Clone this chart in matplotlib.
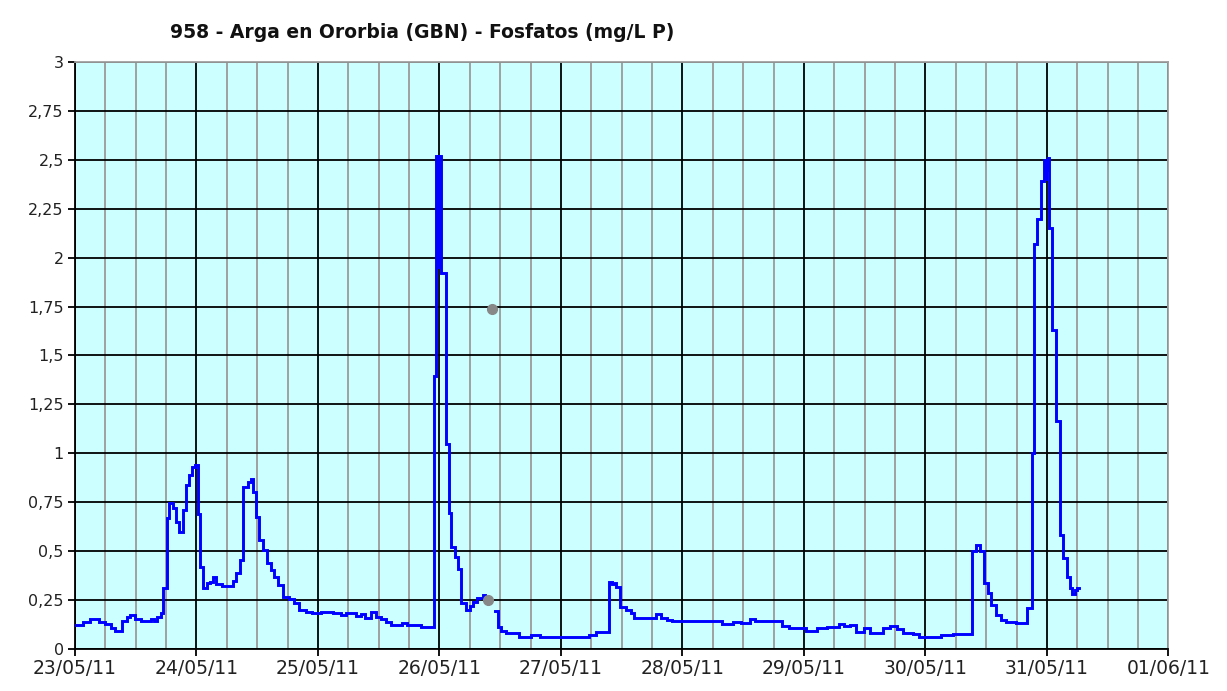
import matplotlib

matplotlib.use("Agg")
import matplotlib.dates as mdates
import matplotlib.pyplot as plt
import numpy as np
import pandas as pd

TITLE = "958 - Arga en Ororbia (GBN) - Fosfatos (mg/L P)"
START = pd.Timestamp("2011-05-23")

# hours since 23/05/11 00:00 and phosphate reading held from that hour on
hours = [
    0.0, 1.5, 3.0, 4.8, 6.0, 7.2, 8.0, 9.2, 10.2, 10.9, 11.8, 13.0, 15.0,
    15.6, 16.3, 17.0, 17.4, 18.1, 18.6, 19.3, 19.9, 20.5, 21.3, 21.9, 22.6,
    23.2, 23.8, 24.3, 24.7, 25.3, 26.0, 26.6, 27.2, 27.8, 29.0, 31.2, 31.9,
    32.6, 33.2, 34.2, 34.7, 35.1, 35.8, 36.4, 37.2, 38.0, 38.7, 39.4, 40.1,
    41.0, 42.3, 43.3, 44.3, 45.6, 46.9, 48.5, 51.0, 52.5, 53.6, 55.5, 56.5,
    57.3, 58.5, 59.5, 60.5, 61.5, 62.5, 64.5, 65.5, 68.4, 70.9, 71.4, 71.6,
    71.8, 72.0, 72.2, 72.4, 73.2, 73.9, 74.3, 75.0, 75.6, 76.3, 77.2, 78.0,
    78.6, 79.5, 80.5, 81.0, 82.9, 83.5, 84.2, 85.2, 87.8, 90.1, 91.8, 101.6,
    103.0, 105.5, 106.0, 106.6, 106.9, 107.7, 108.9, 109.9, 110.5, 114.8,
    115.8, 117.0, 118.0, 127.8, 130.0, 131.5, 133.3, 134.3, 139.6, 141.0,
    144.4, 146.5, 148.5, 151.0, 152.0, 153.0, 154.3, 155.9, 157.0, 159.6,
    161.0, 162.3, 163.5, 165.5, 166.8, 171.0, 173.5, 177.2, 177.9, 178.8,
    179.6, 180.3, 180.9, 181.9, 182.9, 184.0, 185.9, 188.1, 189.1, 189.4,
    190.1, 190.8, 191.4, 191.6, 191.8, 192.0, 192.2, 192.4, 193.0, 193.8,
    194.5, 195.2, 195.9, 196.6, 197.0, 197.5, 198.0, 198.3,
]
fosfatos = [
    0.123, 0.14, 0.152, 0.14, 0.128, 0.106, 0.092, 0.143, 0.162, 0.174,
    0.152, 0.141, 0.152, 0.141, 0.165, 0.182, 0.31, 0.668, 0.745, 0.72,
    0.65, 0.6, 0.71, 0.84, 0.89, 0.93, 0.94, 0.69, 0.42, 0.31, 0.335, 0.34,
    0.37, 0.33, 0.32, 0.35, 0.387, 0.455, 0.83, 0.855, 0.87, 0.80, 0.676,
    0.557, 0.506, 0.438, 0.404, 0.37, 0.327, 0.264, 0.254, 0.233, 0.20,
    0.19, 0.182, 0.187, 0.182, 0.175, 0.182, 0.168, 0.18, 0.16, 0.19, 0.165,
    0.155, 0.14, 0.125, 0.135, 0.123, 0.114, 1.395, 2.52, 1.95, 2.52, 1.95,
    2.52, 1.92, 1.05, 0.697, 0.523, 0.47, 0.41, 0.237, 0.20, 0.22, 0.242,
    0.26, 0.275, np.nan, 0.196, 0.114, 0.094, 0.083, 0.063, 0.071, 0.063,
    0.071, 0.085, 0.344, 0.33, 0.335, 0.318, 0.216, 0.2, 0.182, 0.16, 0.178,
    0.16, 0.148, 0.143, 0.126, 0.14, 0.135, 0.152, 0.145, 0.118, 0.106,
    0.092, 0.106, 0.114, 0.128, 0.115, 0.125, 0.088, 0.106, 0.083, 0.106,
    0.118, 0.1, 0.083, 0.077, 0.063, 0.071, 0.077, 0.502, 0.53, 0.5, 0.336,
    0.285, 0.225, 0.174, 0.148, 0.137, 0.131, 0.208, 1.0, 2.07, 2.2, 2.39,
    2.5, 2.4, 2.5, 2.45, 2.51, 2.15, 1.63, 1.167, 0.583, 0.463, 0.37, 0.31,
    0.28, 0.3, 0.31, 0.31,
]

# isolated samples drawn as grey dots
marker_hours = [82.3, 81.6]
marker_values = [1.74, 0.25]

y_ticks = [0, 0.25, 0.5, 0.75, 1, 1.25, 1.5, 1.75, 2, 2.25, 2.5, 2.75, 3]
y_labels = ["0", "0,25", "0,5", "0,75", "1", "1,25", "1,5", "1,75", "2",
            "2,25", "2,5", "2,75", "3"]


def to_dates(h):
    return START + pd.to_timedelta(h, unit="h")


def main():
    fig = plt.figure(figsize=(12.27, 6.91), dpi=100)
    ax = fig.add_axes([0.0611, 0.0608, 0.8912, 0.8495])
    ax.set_facecolor("#CCFFFF")

    ax.plot(to_dates(hours), fosfatos, color="#0000FF", lw=2.1,
            drawstyle="steps-post", solid_joinstyle="miter", zorder=3)
    ax.plot(to_dates(marker_hours), marker_values, ls="none", marker="o",
            ms=7, color="#888888", zorder=4)

    ax.set_xlim(START, START + pd.Timedelta(days=9))
    ax.set_ylim(0, 3)
    ax.set_yticks(y_ticks)
    ax.set_yticklabels(y_labels)

    ax.xaxis.set_major_locator(mdates.DayLocator())
    ax.xaxis.set_major_formatter(mdates.DateFormatter("%d/%m/%y"))
    ax.xaxis.set_minor_locator(mdates.HourLocator(byhour=[6, 12, 18]))

    ax.grid(which="minor", axis="x", color="#A0A0A0", lw=1.4, zorder=1)
    ax.grid(which="major", color="black", lw=1.3, zorder=2)
    ax.set_axisbelow(True)

    ax.tick_params(which="major", length=5, width=1.3, color="black",
                   labelcolor="#222222", pad=3)
    ax.tick_params(axis="x", which="major", labelsize=13.5, pad=2)
    ax.tick_params(axis="y", which="major", labelsize=11.5)
    ax.tick_params(which="minor", length=0)
    for side in ("left", "bottom"):
        ax.spines[side].set_color("black")
        ax.spines[side].set_linewidth(1.3)
    for side in ("top", "right"):
        ax.spines[side].set_color("#A0A0A0")
        ax.spines[side].set_linewidth(1.3)

    fig.text(170 / 1227, 1 - 33 / 691, TITLE, fontsize=13.5,
             fontweight="bold", va="center", ha="left", color="#111111")

    fig.savefig("out.png", dpi=100, facecolor="white")


if __name__ == "__main__":
    main()
